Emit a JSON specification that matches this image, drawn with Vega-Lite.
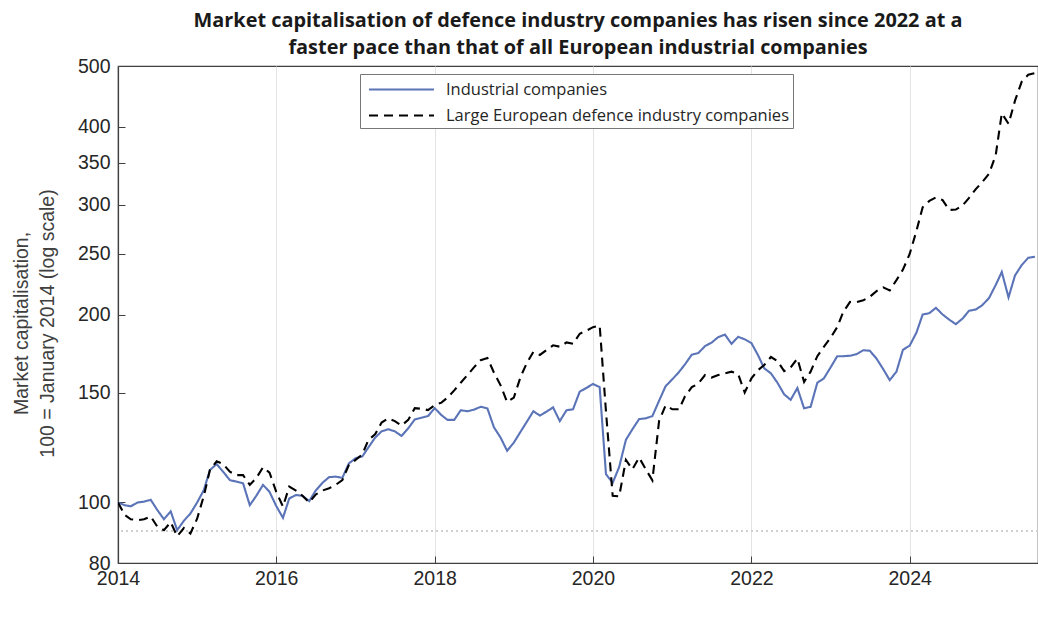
{
 "$schema": "https://vega.github.io/schema/vega-lite/v6.json",
 "width": 920, "height": 497,
 "autosize": {"type": "none"},
 "padding": {"left": 118, "top": 66, "right": 0, "bottom": 65},
 "background": "white",
 "title": {"text": ["Market capitalisation of defence industry companies has risen since 2022 at a", "faster pace than that of all European industrial companies"], "font": "Open Sans", "fontSize": 19.9, "fontWeight": "bold", "color": "#1a1a1a", "anchor": "middle", "offset": -2, "lineHeight": 27},
 "config": {"view": {"stroke": "#404040", "strokeWidth": 1.2}, "font": "Liberation Sans"},
 "data": {"values": [
{"date":"2014-01-01","industrial":100,"defence":100},
{"date":"2014-02-01","industrial":99,"defence":95.5},
{"date":"2014-03-01","industrial":98.6,"defence":94},
{"date":"2014-04-01","industrial":100,"defence":93.7},
{"date":"2014-05-01","industrial":100.3,"defence":94},
{"date":"2014-06-01","industrial":101,"defence":95},
{"date":"2014-07-01","industrial":97.3,"defence":91.5},
{"date":"2014-08-01","industrial":94,"defence":90.3},
{"date":"2014-09-01","industrial":96.8,"defence":93},
{"date":"2014-10-01","industrial":90.3,"defence":88.3},
{"date":"2014-11-01","industrial":93.5,"defence":91},
{"date":"2014-12-01","industrial":96,"defence":89.2},
{"date":"2015-01-01","industrial":100,"defence":94.2},
{"date":"2015-02-01","industrial":104.7,"defence":102.5},
{"date":"2015-03-01","industrial":112.7,"defence":112.7},
{"date":"2015-04-01","industrial":115.2,"defence":116.4},
{"date":"2015-05-01","industrial":112,"defence":115.2},
{"date":"2015-06-01","industrial":108.6,"defence":112},
{"date":"2015-07-01","industrial":108,"defence":110.6},
{"date":"2015-08-01","industrial":107.3,"defence":110.6},
{"date":"2015-09-01","industrial":99,"defence":106.7},
{"date":"2015-10-01","industrial":102.5,"defence":109.4},
{"date":"2015-11-01","industrial":106.7,"defence":113.9},
{"date":"2015-12-01","industrial":104,"defence":111.6},
{"date":"2016-01-01","industrial":98.7,"defence":104},
{"date":"2016-02-01","industrial":94.5,"defence":98.5},
{"date":"2016-03-01","industrial":101.5,"defence":106},
{"date":"2016-04-01","industrial":102.8,"defence":104.5},
{"date":"2016-05-01","industrial":102.5,"defence":102.5},
{"date":"2016-06-01","industrial":100.5,"defence":100},
{"date":"2016-07-01","industrial":104.5,"defence":103},
{"date":"2016-08-01","industrial":107.5,"defence":104.5},
{"date":"2016-09-01","industrial":109.8,"defence":105.4},
{"date":"2016-10-01","industrial":110,"defence":106.7},
{"date":"2016-11-01","industrial":109.5,"defence":108.6},
{"date":"2016-12-01","industrial":115.5,"defence":114.8},
{"date":"2017-01-01","industrial":117.7,"defence":117},
{"date":"2017-02-01","industrial":118.5,"defence":119.4},
{"date":"2017-03-01","industrial":122.5,"defence":125.9},
{"date":"2017-04-01","industrial":127,"defence":128.6},
{"date":"2017-05-01","industrial":130,"defence":134.3},
{"date":"2017-06-01","industrial":131,"defence":136.4},
{"date":"2017-07-01","industrial":130,"defence":135},
{"date":"2017-08-01","industrial":127.8,"defence":132.8},
{"date":"2017-09-01","industrial":131.5,"defence":135.6},
{"date":"2017-10-01","industrial":135.8,"defence":141.6},
{"date":"2017-11-01","industrial":136.7,"defence":141.3},
{"date":"2017-12-01","industrial":137.5,"defence":140.6},
{"date":"2018-01-01","industrial":141.6,"defence":143.2},
{"date":"2018-02-01","industrial":138,"defence":144.5},
{"date":"2018-03-01","industrial":135.6,"defence":147.2},
{"date":"2018-04-01","industrial":135.6,"defence":151.2},
{"date":"2018-05-01","industrial":140.5,"defence":155.5},
{"date":"2018-06-01","industrial":140,"defence":160},
{"date":"2018-07-01","industrial":140.8,"defence":164.6},
{"date":"2018-08-01","industrial":142.3,"defence":169},
{"date":"2018-09-01","industrial":141.5,"defence":170.4},
{"date":"2018-10-01","industrial":132,"defence":161.5},
{"date":"2018-11-01","industrial":127,"defence":154},
{"date":"2018-12-01","industrial":121,"defence":144.8},
{"date":"2019-01-01","industrial":124.7,"defence":147.2},
{"date":"2019-02-01","industrial":129.8,"defence":158.9},
{"date":"2019-03-01","industrial":134.5,"defence":167},
{"date":"2019-04-01","industrial":140,"defence":174.2},
{"date":"2019-05-01","industrial":137.8,"defence":172.3},
{"date":"2019-06-01","industrial":139.8,"defence":175.5},
{"date":"2019-07-01","industrial":142,"defence":178.5},
{"date":"2019-08-01","industrial":135,"defence":177.6},
{"date":"2019-09-01","industrial":140.5,"defence":180.4},
{"date":"2019-10-01","industrial":141,"defence":179.5},
{"date":"2019-11-01","industrial":150.5,"defence":186.3},
{"date":"2019-12-01","industrial":152.5,"defence":188.3},
{"date":"2020-01-01","industrial":154.8,"defence":190.9},
{"date":"2020-02-01","industrial":153,"defence":192},
{"date":"2020-03-01","industrial":111,"defence":140},
{"date":"2020-04-01","industrial":107.5,"defence":102.5},
{"date":"2020-05-01","industrial":114,"defence":102.3},
{"date":"2020-06-01","industrial":126,"defence":117},
{"date":"2020-07-01","industrial":131,"defence":113},
{"date":"2020-08-01","industrial":136,"defence":118},
{"date":"2020-09-01","industrial":136.4,"defence":113},
{"date":"2020-10-01","industrial":137.5,"defence":108.5},
{"date":"2020-11-01","industrial":145.5,"defence":135},
{"date":"2020-12-01","industrial":153.5,"defence":143},
{"date":"2021-01-01","industrial":157.5,"defence":141},
{"date":"2021-02-01","industrial":161.8,"defence":141},
{"date":"2021-03-01","industrial":166.5,"defence":148},
{"date":"2021-04-01","industrial":172.5,"defence":153},
{"date":"2021-05-01","industrial":173.5,"defence":155},
{"date":"2021-06-01","industrial":178,"defence":160},
{"date":"2021-07-01","industrial":180.3,"defence":158.5},
{"date":"2021-08-01","industrial":184,"defence":160},
{"date":"2021-09-01","industrial":185.7,"defence":161},
{"date":"2021-10-01","industrial":179.5,"defence":162},
{"date":"2021-11-01","industrial":184.2,"defence":160.5},
{"date":"2021-12-01","industrial":182.5,"defence":150},
{"date":"2022-01-01","industrial":180,"defence":158},
{"date":"2022-02-01","industrial":172,"defence":163},
{"date":"2022-03-01","industrial":164,"defence":166},
{"date":"2022-04-01","industrial":161,"defence":171},
{"date":"2022-05-01","industrial":155.5,"defence":168.5},
{"date":"2022-06-01","industrial":149,"defence":162.3},
{"date":"2022-07-01","industrial":146,"defence":164.5},
{"date":"2022-08-01","industrial":152.5,"defence":170},
{"date":"2022-09-01","industrial":141.5,"defence":156},
{"date":"2022-10-01","industrial":142.3,"defence":162},
{"date":"2022-11-01","industrial":155.5,"defence":171.5},
{"date":"2022-12-01","industrial":158,"defence":177.5},
{"date":"2023-01-01","industrial":164.5,"defence":183.5},
{"date":"2023-02-01","industrial":171.5,"defence":191},
{"date":"2023-03-01","industrial":171.5,"defence":202},
{"date":"2023-04-01","industrial":171.8,"defence":209.5},
{"date":"2023-05-01","industrial":172.8,"defence":209.3},
{"date":"2023-06-01","industrial":175.3,"defence":210.7},
{"date":"2023-07-01","industrial":175,"defence":213.5},
{"date":"2023-08-01","industrial":170,"defence":218},
{"date":"2023-09-01","industrial":163.5,"defence":221},
{"date":"2023-10-01","industrial":157,"defence":218.5},
{"date":"2023-11-01","industrial":162,"defence":227},
{"date":"2023-12-01","industrial":175.6,"defence":236},
{"date":"2024-01-01","industrial":178.3,"defence":250},
{"date":"2024-02-01","industrial":187,"defence":272},
{"date":"2024-03-01","industrial":200,"defence":297},
{"date":"2024-04-01","industrial":201,"defence":304},
{"date":"2024-05-01","industrial":205,"defence":308},
{"date":"2024-06-01","industrial":200,"defence":305},
{"date":"2024-07-01","industrial":196.3,"defence":294},
{"date":"2024-08-01","industrial":193,"defence":294.5},
{"date":"2024-09-01","industrial":197,"defence":299},
{"date":"2024-10-01","industrial":202.8,"defence":307.5},
{"date":"2024-11-01","industrial":203.7,"defence":317.5},
{"date":"2024-12-01","industrial":207,"defence":326},
{"date":"2025-01-01","industrial":212.5,"defence":336},
{"date":"2025-02-01","industrial":223,"defence":360},
{"date":"2025-03-01","industrial":234,"defence":420},
{"date":"2025-04-01","industrial":213,"defence":404},
{"date":"2025-05-01","industrial":231,"defence":440},
{"date":"2025-06-01","industrial":240,"defence":472},
{"date":"2025-07-01","industrial":246.5,"defence":484},
{"date":"2025-08-01","industrial":247.5,"defence":487}
 ]},
 "transform": [{"fold": ["industrial", "defence"], "as": ["series", "value"]}],
 "layer": [
  {
   "mark": {"type": "rule", "strokeDash": [2, 3], "color": "#cfcfcf", "strokeWidth": 1},
   "encoding": {
    "y": {"datum": 90, "type": "quantitative", "scale": {"type": "log", "domain": [80, 500]}}
   }
  },
  {
   "mark": {"type": "line", "strokeWidth": 2.1, "clip": true},
   "encoding": {
    "x": {"field": "date", "type": "temporal",
      "scale": {"type": "utc", "domain": [{"year": 2014, "month": 1, "date": 1, "utc": true}, {"year": 2025, "month": 8, "date": 15, "utc": true}]},
      "axis": {"values": [{"year": 2014, "month": 1, "date": 1, "utc": true}, {"year": 2016, "month": 1, "date": 1, "utc": true}, {"year": 2018, "month": 1, "date": 1, "utc": true}, {"year": 2020, "month": 1, "date": 1, "utc": true}, {"year": 2022, "month": 1, "date": 1, "utc": true}, {"year": 2024, "month": 1, "date": 1, "utc": true}],
        "format": "%Y", "title": null, "labelFontSize": 19.5, "labelColor": "#262626", "labelFont": "Liberation Sans",
        "tickSize": -7, "labelPadding": 13, "tickColor": "#404040", "domainColor": "#404040", "domainWidth": 1.2,
        "gridColor": "#e3e3e3", "labelFlush": false, "labelOverlap": false}},
    "y": {"field": "value", "type": "quantitative",
      "scale": {"type": "log", "domain": [80, 500]},
      "axis": {"values": [80, 100, 150, 200, 250, 300, 350, 400, 500],
        "title": ["Market capitalisation,", "100 = January 2014 (log scale)"],
        "titleFontSize": 19.5, "titleFontWeight": "normal", "titleColor": "#404040", "titleFont": "Liberation Sans",
        "titleX": -86.5, "titleY": 257, "titleAngle": -90, "titleLineHeight": 26,
        "labelFontSize": 19.5, "labelColor": "#262626", "labelFont": "Liberation Sans",
        "tickSize": -7, "labelPadding": 15, "tickColor": "#404040", "domainColor": "#404040", "domainWidth": 1.2,
        "gridColor": "#e3e3e3", "labelFlush": false, "labelOverlap": false}},
    "color": {"field": "series", "type": "nominal",
      "scale": {"domain": ["industrial", "defence"], "range": ["#5b74b8", "#000000"]},
      "legend": {"orient": "none", "legendX": 242, "legendY": 8, "title": null,
        "labelExpr": "datum.label == 'industrial' ? 'Industrial companies' : 'Large European defence industry companies'",
        "labelFont": "Open Sans", "labelFontSize": 16.5, "labelColor": "#262626", "labelLimit": 0,
        "symbolType": "M-3.25,0H3.25", "symbolSize": 400, "symbolStrokeWidth": 2.1, "symbolOffset": 26,
        "strokeColor": "#777777", "fillColor": "white", "padding": 4, "rowPadding": 6, "labelOffset": 33}},
    "strokeDash": {"field": "series", "type": "nominal",
      "scale": {"domain": ["industrial", "defence"], "range": [[1, 0], [9, 6]]},
      "legend": {"orient": "none", "legendX": 242, "legendY": 8, "title": null,
        "labelExpr": "datum.label == 'industrial' ? 'Industrial companies' : 'Large European defence industry companies'",
        "labelFont": "Open Sans", "labelFontSize": 16.5, "labelColor": "#262626", "labelLimit": 0,
        "symbolType": "M-3.25,0H3.25", "symbolSize": 400, "symbolStrokeWidth": 2.1, "symbolOffset": 26,
        "strokeColor": "#777777", "fillColor": "white", "padding": 4, "rowPadding": 6, "labelOffset": 33}}
   }
  }
 ]
}
